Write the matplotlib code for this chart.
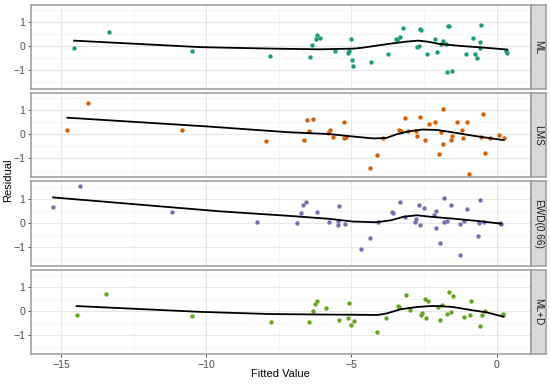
import matplotlib
matplotlib.use("Agg")
import matplotlib.pyplot as plt
from matplotlib.ticker import MultipleLocator

plt.rcParams['font.family'] = ['Liberation Sans', 'DejaVu Sans']

# facet labels and colours (Dark2)
panels = ['ML', 'LMS', 'EWD(0.66)', 'ML+D']
colors = ['#1B9E77', '#D95F02', '#7570B3', '#66A61E']

ml_x = [-14.55, -13.33, -10.48, -7.80, -6.44, -6.36, -6.23, -6.19, -6.08, -5.55, -5.11, -5.08, -5.02, -4.99, -4.94,
        -4.32, -3.74, -3.48, -3.44, -3.32, -3.24, -2.76, -2.68, -2.63, -2.60, -2.40, -2.12, -2.04, -1.91, -1.84,
        -1.75, -1.72, -1.69, -1.63, -1.55, -1.05, -0.81, -0.75, -0.69, -0.56, -0.56, -0.53, 0.31, 0.37]
ml_y = [-0.07, 0.57, -0.21, -0.43, -0.47, 0.03, 0.28, 0.47, 0.34, -0.23, -0.30, -0.21, 0.28, -0.59, -0.83,
        -0.67, -0.34, 0.29, 0.26, 0.37, 0.76, -0.04, 0.01, 0.70, 0.65, -0.33, 0.29, -0.25, 0.07, 0.21,
        0.10, -1.07, 0.83, 0.81, -1.03, -0.32, 0.32, -0.32, -0.50, -0.10, 0.15, 0.87, -0.19, -0.30]

lms_x = [-14.78, -14.07, -10.84, -7.94, -6.64, -6.52, -6.46, -6.34, -5.80, -5.73, -5.65, -5.27, -5.25, -5.19, -4.36,
         -4.12, -3.92, -3.37, -3.31, -3.14, -3.07, -2.77, -2.73, -2.64, -2.47, -2.33, -2.14, -1.99, -1.92, -1.86,
         -1.85, -1.58, -1.54, -1.38, -1.21, -1.17, -1.01, -0.94, -0.53, -0.48, -0.41, -0.24, 0.09, 0.24]
lms_y = [0.17, 1.29, 0.16, -0.27, -0.25, 0.58, 0.15, 0.62, 0.05, 0.16, -0.11, 0.51, -0.14, -0.09, -1.41,
         -0.87, -0.14, 0.19, 0.15, 0.69, 0.15, 0.13, -0.06, 0.71, -0.25, 0.42, 0.53, -0.80, 0.09, -0.42,
         1.03, -0.22, -0.07, 0.53, 0.16, -0.17, 0.53, -1.64, -0.10, 0.84, -0.76, -0.17, -0.02, -0.14]

ewd_x = [-15.27, -14.33, -11.16, -8.25, -6.88, -6.72, -6.67, -6.56, -6.18, -5.78, -5.48, -5.44, -5.48, -5.23, -4.68,
         -4.35, -4.07, -3.62, -3.58, -3.34, -3.14, -2.82, -2.78, -2.64, -2.66, -2.50, -2.17, -2.10, -2.08, -1.95,
         -1.82, -1.82, -1.70, -1.58, -1.26, -1.27, -1.11, -1.03, -0.63, -0.62, -0.57, -0.44, 0.11, 0.16]
ewd_y = [0.65, 1.54, 0.45, 0.05, -0.01, 0.42, 0.73, 0.84, 0.45, 0.02, 0.09, 0.69, -0.09, -0.05, -1.08,
         -0.64, 0.02, 0.43, 0.39, 0.87, 0.23, 0.02, 0.14, -0.08, 0.75, 0.60, 0.34, 0.50, -0.20, -0.82,
         1.01, 0.02, 0.09, 0.75, -1.32, -0.06, 0.07, 0.57, -0.53, -0.01, 0.93, 0.05, -0.02, -0.04]

mld_x = [-14.46, -13.46, -10.50, -7.78, -6.47, -6.33, -6.25, -6.18, -5.89, -5.43, -5.13, -5.08, -5.03, -4.90, -4.12,
         -3.80, -3.40, -3.36, -3.13, -2.97, -2.62, -2.56, -2.47, -2.36, -2.43, -2.03, -1.95, -1.87, -1.72, -1.63,
         -1.58, -1.49, -1.12, -0.91, -0.88, -0.57, -0.51, -0.40, 0.22, 0.23]
mld_y = [-0.18, 0.69, -0.21, -0.44, -0.44, 0.01, 0.30, 0.43, 0.14, -0.36, -0.27, 0.32, -0.56, -0.41, -0.88,
         -0.29, 0.21, 0.18, 0.66, 0.03, -0.18, -0.08, 0.52, 0.44, -0.30, 0.18, -0.35, 0.27, -0.10, 0.80,
         -0.04, 0.63, -0.23, -0.16, 0.40, -0.61, -0.14, 0.00, -0.12, -0.17]

# smoother curves
ml_fit_x = [-14.55, -10.2, -7.8, -6.1, -4.9, -4.6, -3.8, -3.1, -2.7, -2.4, -1.95, -1.25, -0.55, 0.37]
ml_fit_y = [0.22, -0.05, -0.11, -0.14, -0.11, -0.07, 0.07, 0.18, 0.22, 0.18, 0.08, 0.0, -0.06, -0.15]
lms_fit_x = [-14.78, -10.0, -7.2, -5.75, -4.95, -4.25, -3.8, -3.45, -3.0, -2.55, -2.05, -1.5, -0.8, 0.24]
lms_fit_y = [0.69, 0.33, 0.09, 0.01, -0.09, -0.17, -0.15, 0.0, 0.13, 0.20, 0.18, 0.08, -0.06, -0.24]
ewd_fit_x = [-15.27, -9.5, -7.2, -5.75, -4.95, -4.15, -3.65, -3.2, -2.75, -2.3, -1.5, -0.55, 0.16]
ewd_fit_y = [1.05, 0.47, 0.29, 0.16, 0.05, 0.02, 0.10, 0.25, 0.31, 0.25, 0.17, 0.06, -0.04]
mld_fit_x = [-14.46, -10.2, -7.8, -6.1, -4.9, -4.1, -3.8, -3.3, -2.75, -2.3, -1.95, -1.5, -0.8, -0.35, 0.23]
mld_fit_y = [0.21, -0.03, -0.12, -0.14, -0.15, -0.16, -0.10, 0.08, 0.17, 0.21, 0.21, 0.17, 0.03, -0.05, -0.23]

points = [(ml_x, ml_y), (lms_x, lms_y), (ewd_x, ewd_y), (mld_x, mld_y)]
fits = [(ml_fit_x, ml_fit_y), (lms_fit_x, lms_fit_y), (ewd_fit_x, ewd_fit_y), (mld_fit_x, mld_fit_y)]

W, H = 550, 384
fig = plt.figure(figsize=(W / 100, H / 100), dpi=100)

left, right = 31, 530.7
strip_w = 15
top0, panel_h, step = 4.7, 84.4, 88.4
border = '#9A9A9A'

for i, name in enumerate(panels):
    top = top0 + i * step
    ax = fig.add_axes([left / W, 1 - (top + panel_h) / H, (right - left) / W, panel_h / H])
    ax.set_xlim(-16.03, 1.17)
    ax.set_ylim(-1.79, 1.71)
    ax.xaxis.set_major_locator(MultipleLocator(5))
    ax.xaxis.set_minor_locator(MultipleLocator(2.5))
    ax.yaxis.set_major_locator(MultipleLocator(1))
    ax.yaxis.set_minor_locator(MultipleLocator(0.5))
    ax.grid(which='major', color='#E8E8E8', lw=0.8)
    ax.grid(which='minor', color='#F2F2F2', lw=0.5)
    ax.set_axisbelow(True)
    ax.tick_params(which='minor', length=0)
    ax.tick_params(which='major', length=2.5, width=0.6, color='#333333', labelcolor='#4D4D4D',
                   labelsize=7.6, pad=1.5)
    for s in ax.spines.values():
        s.set_color(border)
        s.set_linewidth(1.1)

    px, py = points[i]
    ax.scatter(px, py, s=10, color=colors[i], lw=0, zorder=3)
    fx, fy = fits[i]
    ax.plot(fx, fy, color='black', lw=1.3, zorder=4)

    if i < len(panels) - 1:
        ax.tick_params(axis='x', length=0, labelbottom=False)

    # strip on the right
    sax = fig.add_axes([right / W, 1 - (top + panel_h) / H, strip_w / W, panel_h / H])
    sax.set_facecolor('#D9D9D9')
    sax.set_xticks([])
    sax.set_yticks([])
    for s in sax.spines.values():
        s.set_color(border)
        s.set_linewidth(1.1)
    sax.text(0.5, 0.5, name, rotation=270, ha='center', va='center', fontsize=7.2,
             color='#1A1A1A', transform=sax.transAxes)

fig.text((left + right) / 2 / W, 1 - 374 / H, 'Fitted Value', ha='center', va='center', fontsize=8)
fig.text(8 / W, 1 - 180 / H, 'Residual', rotation=90, ha='center', va='center', fontsize=8)

fig.savefig('out.png', dpi=100)
